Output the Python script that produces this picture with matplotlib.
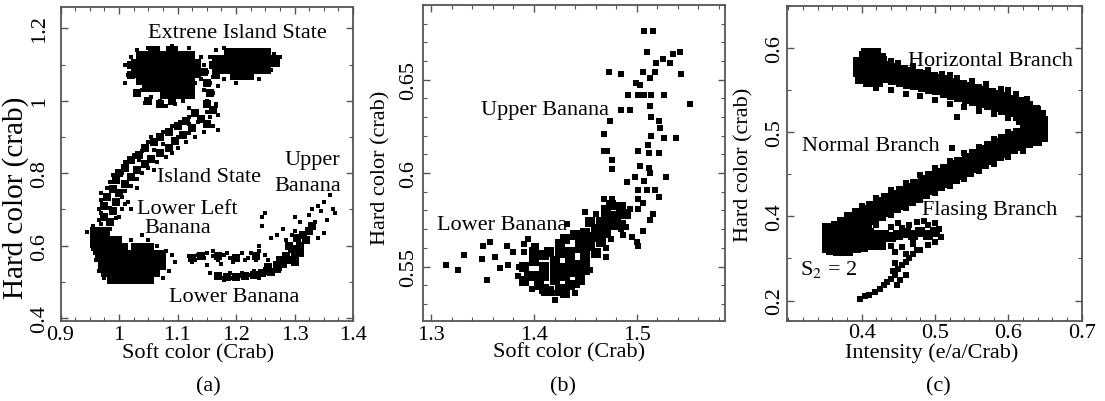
import numpy as np
import matplotlib
matplotlib.use('Agg')
import matplotlib.pyplot as plt
from matplotlib.ticker import MultipleLocator, FixedLocator, FixedFormatter

plt.rcParams['font.family'] = ['Liberation Serif', 'DejaVu Serif']
plt.rcParams['mathtext.fontset'] = 'stix'

# ---------------- Panel (a): soft colour vs hard colour ----------------
a_core = [  # dense regions
    (1.04,1.12),(1.06,1.12),(1.08,1.12),(1.10,1.12),(1.12,1.12),(1.06,1.135),(1.09,1.135),
    (1.03,1.10),(1.05,1.10),(1.07,1.10),(1.09,1.10),(1.11,1.10),(1.13,1.10),
    (1.03,1.08),(1.05,1.08),(1.07,1.08),(1.09,1.08),(1.11,1.08),(1.13,1.08),
    (1.04,1.06),(1.06,1.06),(1.08,1.06),(1.10,1.06),(1.12,1.06),
    (1.06,1.04),(1.08,1.04),(1.10,1.04),(1.12,1.04),(1.08,1.02),(1.10,1.02),(1.12,1.02),
    (1.05,1.04),
    (1.19,1.13),(1.21,1.13),(1.23,1.13),(1.25,1.13),
    (1.17,1.11),(1.19,1.11),(1.21,1.11),(1.23,1.11),(1.25,1.11),(1.265,1.11),
    (1.17,1.09),(1.19,1.09),(1.21,1.09),(1.23,1.09),(1.25,1.09),(1.20,1.075),(1.22,1.075),
    (0.99,0.51),(1.01,0.51),(1.03,0.51),(1.05,0.51),
    (0.98,0.53),(1.00,0.53),(1.02,0.53),(1.04,0.53),(1.06,0.53),
    (0.975,0.55),(0.995,0.55),(1.015,0.55),(1.035,0.55),(1.055,0.55),(1.07,0.55),
    (0.97,0.57),(0.99,0.57),(1.01,0.57),(1.03,0.57),(1.05,0.57),(1.07,0.57),
    (0.965,0.59),(0.985,0.59),(1.005,0.59),(1.03,0.59),(1.05,0.59),
    (0.96,0.61),(0.975,0.61),(0.995,0.61),(0.96,0.635),(0.975,0.635),
]
a_mid = [
    (1.16,0.975),(1.13,0.965),(1.14,0.95),(1.115,0.945),(1.15,0.935),(1.10,0.93),
    (1.125,0.925),(1.085,0.915),(1.11,0.905),(1.07,0.90),(1.095,0.89),(1.06,0.885),
    (1.085,0.87),(1.045,0.87),(1.07,0.855),(1.035,0.85),(1.055,0.84),(1.02,0.835),
    (1.045,0.825),(1.01,0.815),(1.03,0.81),(1.00,0.80),(1.02,0.79),(0.995,0.78),
    (1.01,0.77),(0.99,0.755),(1.00,0.745),(0.98,0.735),(0.995,0.72),(0.975,0.71),
    (0.99,0.695),(0.975,0.68),(0.985,0.665),
    (1.15,0.99),(1.155,1.02),(1.15,1.05),(1.145,1.08),
    (1.05,1.00),(1.07,0.99),(1.09,1.00),(1.03,1.02),
    (1.02,1.07),(1.02,1.10),(1.165,1.07),(1.16,1.10),
    (1.17,0.515),(1.185,0.512),(1.20,0.513),(1.215,0.517),(1.23,0.52),(1.245,0.523),
    (1.26,0.528),(1.27,0.535),(1.255,0.54),
    (1.125,0.565),(1.14,0.57),(1.17,0.57),(1.20,0.565),(1.235,0.57),
    (1.27,0.545),(1.28,0.55),(1.29,0.56),(1.30,0.575),(1.295,0.59),(1.31,0.60),
    (1.31,0.58),(1.32,0.615),(1.285,0.57),(1.30,0.555),(1.315,0.63),(1.325,0.64),
    (1.275,0.56),(1.29,0.60),(1.305,0.62),(1.33,0.655),
]
a_pts = [
    (1.14,1.12),(1.145,1.10),(1.15,1.08),(1.14,1.06),(1.155,1.05),(1.145,1.03),(1.16,1.02),
    (1.15,1.00),(1.165,0.99),(1.135,1.09),(1.16,1.065),
    (1.17,1.04),(1.13,1.05),(1.125,1.03),(1.11,1.00),(1.095,0.99),(1.07,1.00),(1.055,1.01),
    (1.045,0.995),(1.08,0.985),(1.12,0.98),
    (1.01,1.10),(1.015,1.07),(1.02,1.12),(1.01,1.05),(1.03,1.14),(1.05,1.145),(1.09,1.15),
    (1.12,1.145),(1.04,1.03),(1.025,1.09),
    (1.155,1.12),(1.165,1.14),(1.18,1.145),(1.27,1.10),(1.275,1.12),(1.265,1.13),(1.24,1.06),
    (1.18,1.06),(1.20,1.05),(1.26,1.085),
    (1.17,0.96),(1.165,0.985),(1.15,0.97),(1.12,0.955),(1.105,0.94),(1.135,0.94),(1.16,0.93),
    (1.09,0.93),(1.12,0.91),(1.13,0.90),(1.075,0.915),(1.055,0.90),(1.10,0.90),(1.115,0.885),
    (1.05,0.885),(1.075,0.88),(1.10,0.87),(1.04,0.86),(1.06,0.865),(1.08,0.845),(1.025,0.85),
    (1.065,0.83),(1.035,0.835),(1.01,0.83),(1.05,0.815),(1.005,0.80),(1.04,0.80),(0.99,0.795),
    (1.03,0.785),(0.985,0.775),(1.02,0.765),(0.98,0.76),(1.01,0.75),(0.97,0.745),(1.005,0.735),
    (0.97,0.725),(1.01,0.715),(0.965,0.70),(1.005,0.70),(0.985,0.705),(0.97,0.69),(1.00,0.68),
    (0.965,0.67),(0.995,0.675),(1.02,0.70),(1.015,0.72),(1.03,0.76),(1.06,0.81),(1.09,0.855),
    (1.12,0.935),(1.145,0.915),(1.17,0.92),(1.155,0.955),
    (0.945,0.637),(0.955,0.655),(0.97,0.66),(0.985,0.645),(1.02,0.615),(1.05,0.615),
    (1.065,0.60),(1.08,0.585),(1.09,0.575),(1.095,0.555),(1.085,0.53),(1.075,0.51),(1.05,0.50),
    (1.02,0.50),(0.99,0.50),(0.975,0.51),(0.965,0.53),(0.96,0.56),(0.955,0.59),(1.04,0.63),
    (1.12,0.57),(1.125,0.555),(1.135,0.575),(1.145,0.565),(1.15,0.545),(1.16,0.57),(1.17,0.56),
    (1.18,0.575),(1.19,0.565),(1.20,0.57),(1.21,0.58),(1.22,0.565),(1.23,0.575),(1.24,0.585),
    (1.25,0.575),(1.16,0.585),(1.175,0.55),(1.195,0.555),(1.215,0.56),(1.235,0.56),(1.24,0.60),
    (1.255,0.56),(1.13,0.56),(1.15,0.58),(1.185,0.58),(1.225,0.58),
    (1.155,0.525),(1.165,0.515),(1.175,0.51),(1.185,0.515),(1.195,0.51),(1.205,0.515),
    (1.215,0.515),(1.225,0.52),(1.235,0.52),(1.245,0.525),(1.255,0.525),(1.265,0.53),
    (1.275,0.535),(1.19,0.525),(1.21,0.525),(1.23,0.53),(1.25,0.535),(1.18,0.505),(1.24,0.51),
    (1.245,0.68),(1.25,0.69),(1.245,0.655),(1.26,0.62),(1.27,0.63),(1.28,0.645),(1.295,0.63),
    (1.285,0.615),(1.30,0.68),(1.31,0.665),(1.325,0.685),(1.33,0.70),(1.34,0.71),(1.345,0.695),
    (1.35,0.72),(1.36,0.74),(1.365,0.70),(1.37,0.69),(1.355,0.67),(1.35,0.635),(1.34,0.62),
    (1.30,0.64),(1.335,0.665),
]

# ---------------- Panel (b) ----------------
b_core = [
    (1.395,0.545),(1.405,0.540),(1.415,0.537),(1.425,0.538),(1.435,0.540),(1.445,0.543),
    (1.400,0.553),(1.410,0.550),(1.420,0.548),(1.430,0.549),(1.440,0.551),(1.450,0.553),
    (1.415,0.558),(1.425,0.557),(1.435,0.558),(1.445,0.560),(1.455,0.561),(1.460,0.557),
    (1.430,0.565),(1.440,0.567),(1.450,0.568),(1.460,0.566),(1.465,0.563),
    (1.455,0.574),(1.465,0.571),(1.470,0.575),(1.480,0.577),(1.485,0.572),
    (1.475,0.583),(1.485,0.582),(1.490,0.578),
    (1.390,0.550),(1.400,0.545),(1.410,0.545),(1.420,0.543),(1.430,0.545),(1.440,0.547),
    (1.450,0.548),(1.420,0.553),(1.410,0.556),(1.450,0.557),(1.435,0.553),
    (1.425,0.562),(1.445,0.564),(1.455,0.566),(1.460,0.570),(1.470,0.568),(1.475,0.572),
    (1.470,0.580),(1.410,0.538),(1.430,0.536),(1.400,0.558),(1.390,0.542),
]
b_pts = [
    (1.314,0.551),(1.326,0.548),(1.332,0.556),(1.349,0.554),(1.354,0.543),(1.350,0.561),
    (1.357,0.563),(1.362,0.555),(1.367,0.549),(1.374,0.561),(1.384,0.545),(1.390,0.558),
    (1.394,0.565),(1.402,0.561),(1.410,0.536),(1.422,0.536),(1.432,0.573),(1.440,0.566),
    (1.442,0.540),(1.450,0.579),(1.463,0.575),(1.468,0.586),(1.476,0.586),(1.468,0.612),
    (1.471,0.612),(1.476,0.607),(1.476,0.602),(1.468,0.621),(1.474,0.628),(1.473,0.654),
    (1.485,0.653),(1.485,0.634),(1.493,0.634),(1.492,0.642),(1.501,0.642),(1.507,0.642),
    (1.514,0.642),(1.499,0.648),(1.503,0.647),(1.506,0.654),(1.513,0.651),(1.518,0.654),
    (1.507,0.676),(1.516,0.676),(1.510,0.665),(1.519,0.659),(1.526,0.661),(1.532,0.659),
    (1.535,0.664),(1.542,0.665),(1.543,0.653),(1.527,0.642),(1.552,0.637),(1.513,0.636),
    (1.514,0.630),(1.522,0.628),(1.523,0.624),(1.514,0.620),(1.527,0.619),(1.538,0.619),
    (1.511,0.615),(1.501,0.612),(1.512,0.611),(1.522,0.611),(1.503,0.604),(1.512,0.603),
    (1.513,0.600),(1.507,0.596),(1.529,0.598),(1.498,0.598),(1.491,0.595),(1.501,0.591),
    (1.510,0.591),(1.518,0.591),(1.522,0.587),(1.501,0.586),(1.506,0.584),(1.501,0.581),
    (1.493,0.581),(1.488,0.579),(1.516,0.578),(1.513,0.575),(1.506,0.569),(1.500,0.563),
    (1.501,0.561),(1.487,0.567),(1.485,0.570),
    (1.380,0.558),(1.385,0.550),(1.390,0.562),(1.375,0.551),(1.400,0.561),(1.430,0.535),
    (1.440,0.536),(1.455,0.548),(1.470,0.555),(1.475,0.565),(1.490,0.571),(1.495,0.566),
    (1.460,0.578),(1.470,0.560),(1.420,0.532),(1.412,0.544),(1.398,0.538),
]

# ---------------- Panel (c): intensity vs hard colour ----------------
c_band = [
    (0.405,0.578),(0.412,0.577),(0.420,0.575),(0.430,0.573),(0.440,0.571),(0.450,0.568),
    (0.460,0.566),(0.470,0.564),(0.480,0.562),(0.490,0.560),(0.500,0.558),(0.510,0.556),
    (0.520,0.553),(0.530,0.551),(0.540,0.548),(0.550,0.546),(0.560,0.543),(0.570,0.541),
    (0.580,0.538),(0.590,0.536),(0.600,0.533),(0.610,0.530),(0.620,0.526),(0.630,0.521),
    (0.637,0.515),(0.641,0.508),(0.640,0.500),
    (0.632,0.496),(0.620,0.493),(0.610,0.490),(0.600,0.486),(0.590,0.482),(0.580,0.478),
    (0.570,0.473),(0.560,0.468),(0.550,0.464),(0.540,0.459),(0.530,0.455),(0.520,0.450),
    (0.510,0.446),(0.500,0.442),(0.490,0.437),(0.480,0.433),(0.470,0.428),(0.460,0.424),
    (0.450,0.420),(0.440,0.416),(0.430,0.411),(0.420,0.407),(0.410,0.402),(0.400,0.398),
    (0.390,0.393),(0.380,0.388),(0.372,0.383),(0.365,0.378),(0.362,0.372),(0.366,0.366),
    (0.375,0.365),(0.385,0.368),(0.395,0.370),(0.405,0.372),
    (0.410,0.585),(0.415,0.566),(0.405,0.570),(0.420,0.583),(0.412,0.588),(0.402,0.578),
    (0.360,0.380),(0.370,0.376),(0.380,0.375),(0.390,0.374),(0.400,0.372),(0.410,0.372),
    (0.420,0.372),(0.360,0.368),(0.370,0.368),
]
c_mid = [
    (0.390,0.383),(0.400,0.378),(0.410,0.380),(0.420,0.376),(0.430,0.378),(0.440,0.375),
    (0.450,0.378),(0.460,0.380),(0.470,0.378),(0.480,0.382),(0.490,0.378),(0.500,0.381),
]
c_pts = [
    (0.430,0.587),(0.450,0.583),(0.470,0.579),(0.490,0.574),(0.510,0.570),(0.530,0.565),
    (0.550,0.561),(0.570,0.557),(0.590,0.552),(0.610,0.546),(0.625,0.540),(0.640,0.528),
    (0.650,0.512),(0.440,0.585),(0.520,0.568),(0.600,0.550),
    (0.420,0.553),(0.440,0.551),(0.460,0.546),(0.480,0.543),(0.500,0.539),(0.520,0.534),
    (0.540,0.530),(0.560,0.526),(0.580,0.522),(0.600,0.517),(0.615,0.512),
    (0.620,0.507),(0.600,0.500),(0.580,0.492),(0.560,0.483),(0.540,0.475),(0.520,0.466),
    (0.500,0.458),(0.480,0.449),(0.460,0.440),(0.440,0.431),(0.420,0.422),(0.400,0.413),
    (0.380,0.402),
    (0.620,0.478),(0.600,0.471),(0.580,0.463),(0.560,0.454),(0.540,0.445),(0.520,0.436),
    (0.500,0.428),(0.480,0.419),(0.460,0.410),(0.440,0.402),(0.420,0.394),(0.400,0.386),
    (0.355,0.358),(0.355,0.388),(0.530,0.518),(0.523,0.482),
    (0.410,0.392),(0.420,0.390),(0.425,0.398),(0.440,0.388),(0.450,0.392),(0.455,0.386),
    (0.465,0.390),(0.475,0.393),(0.485,0.395),(0.490,0.390),(0.500,0.392),(0.505,0.385),
    (0.508,0.375),(0.500,0.370),(0.490,0.366),(0.470,0.367),(0.455,0.364),(0.440,0.365),
    (0.425,0.366),(0.410,0.368),(0.460,0.355),(0.480,0.360),(0.445,0.358),(0.470,0.372),
    (0.398,0.302),(0.405,0.305),(0.410,0.306),(0.418,0.310),(0.425,0.314),(0.430,0.318),
    (0.435,0.322),(0.440,0.326),(0.445,0.330),(0.442,0.335),(0.450,0.338),(0.455,0.342),
    (0.460,0.346),(0.448,0.318),(0.452,0.325),(0.465,0.350),(0.470,0.355),(0.475,0.360),
    (0.460,0.330),(0.445,0.345),
]

c_xtick_vals = [0.4, 0.5, 0.6, 0.7]
c_ytick_vals = [0.3, 0.4, 0.5, 0.6]
c_ytick_labels = ['0.2', '0.4', '0.5', '0.6']

FS = 16
SPINE = '#555555'

fig = plt.figure(figsize=(11.05, 4.02), dpi=100)
W, H = 1105.0, 402.0
axA = fig.add_axes([60.5/W, (H-321.7)/H, 292.5/W, 313.4/H])
axB = fig.add_axes([422.7/W, (H-321.7)/H, 302.3/W, 315.7/H])
axC = fig.add_axes([786.7/W, (H-321.7)/H, 295.0/W, 314.4/H])


def style(ax, ypad, xpad=3):
    for s in ax.spines.values():
        s.set_color(SPINE)
        s.set_linewidth(1.3)
    ax.tick_params(which='both', direction='in', top=True, right=True, color=SPINE,
                   labelsize=FS)
    ax.tick_params(which='major', length=5, width=1.0)
    ax.tick_params(which='minor', length=3, width=0.8)
    ax.tick_params(axis='x', pad=xpad)
    ax.tick_params(axis='y', pad=ypad)
    for lab in ax.get_yticklabels():
        lab.set_rotation(90)
        lab.set_va('center')


def scat(ax, pts, size):
    arr = np.array(pts)
    ax.scatter(arr[:, 0], arr[:, 1], s=size, marker='s', c='black', linewidths=0)


fmt = plt.FuncFormatter(lambda v, p: ('%g' % round(v, 3)))

# Panel (a)
scat(axA, a_core, 70)
scat(axA, a_mid, 26)
scat(axA, a_pts, 12)
axA.set_xlim(0.9, 1.4)
axA.set_ylim(0.3925, 1.258)
axA.xaxis.set_major_locator(MultipleLocator(0.1))
axA.xaxis.set_minor_locator(MultipleLocator(0.025))
axA.yaxis.set_major_locator(MultipleLocator(0.2))
axA.yaxis.set_minor_locator(MultipleLocator(0.1))
axA.xaxis.set_major_formatter(fmt)
axA.yaxis.set_major_formatter(fmt)
style(axA, 8)
axA.set_xlabel('Soft color (Crab)', fontsize=FS)
axA.set_ylabel('Hard color (crab)', fontsize=21)
axA.xaxis.set_label_coords(0.47, -0.072)
axA.yaxis.set_label_coords(-0.108, 0.395)
axA.text(1.203, 1.189, 'Extrene Island State', fontsize=FS, ha='center', va='center')
axA.text(1.154, 0.791, 'Island State', fontsize=FS, ha='center', va='center')
axA.text(1.330, 0.839, 'Upper', fontsize=FS, ha='center', va='center')
axA.text(1.322, 0.767, 'Banana', fontsize=FS, ha='center', va='center')
axA.text(1.116, 0.701, 'Lower Left', fontsize=FS, ha='center', va='center')
axA.text(1.101, 0.650, 'Banana', fontsize=FS, ha='center', va='center')
axA.text(1.197, 0.458, 'Lower Banana', fontsize=FS, ha='center', va='center')

# Panel (b)
scat(axB, b_core, 60)
scat(axB, b_pts, 14)
axB.set_xlim(1.2916, 1.586)
axB.set_ylim(0.521, 0.690)
axB.xaxis.set_major_locator(MultipleLocator(0.1))
axB.xaxis.set_minor_locator(MultipleLocator(0.02))
axB.yaxis.set_major_locator(MultipleLocator(0.05))
axB.yaxis.set_minor_locator(MultipleLocator(0.01))
axB.xaxis.set_major_formatter(fmt)
axB.yaxis.set_major_formatter(fmt)
style(axB, 3)
axB.set_xlabel('Soft color (Crab)', fontsize=FS)
axB.set_ylabel('Hard color (crab)', fontsize=FS)
axB.xaxis.set_label_coords(0.484, -0.068)
axB.yaxis.set_label_coords(-0.108, 0.487)
axB.text(1.411, 0.634, 'Upper Banana', fontsize=FS, ha='center', va='center')
axB.text(1.369, 0.5724, 'Lower Banana', fontsize=FS, ha='center', va='center')

# Panel (c)
scat(axC, c_band, 200)
scat(axC, c_mid, 50)
scat(axC, c_pts, 15)
axC.set_xlim(0.2977, 0.70)
axC.set_ylim(0.276, 0.65)
axC.xaxis.set_major_locator(FixedLocator(c_xtick_vals))
axC.xaxis.set_minor_locator(MultipleLocator(0.02))
axC.yaxis.set_major_locator(FixedLocator(c_ytick_vals))
axC.yaxis.set_major_formatter(FixedFormatter(c_ytick_labels))
axC.yaxis.set_minor_locator(MultipleLocator(0.05))
axC.xaxis.set_major_formatter(fmt)
style(axC, 2, xpad=1.5)
axC.set_xlabel('Intensity (e/a/Crab)', fontsize=FS)
axC.set_ylabel('Hard color (crab)', fontsize=FS)
axC.xaxis.set_label_coords(0.49, -0.07)
axC.yaxis.set_label_coords(-0.114, 0.5)
axC.text(0.575, 0.5857, 'Horizontal Branch', fontsize=FS, ha='center', va='center')
axC.text(0.4124, 0.4839, 'Normal Branch', fontsize=FS, ha='center', va='center')
axC.text(0.575, 0.4087, 'Flasing Branch', fontsize=FS, ha='center', va='center')
axC.text(0.3158, 0.338, r'S$_2$ = 2', fontsize=FS, ha='left', va='center')

fig.text(0.189, 0.038, '(a)', fontsize=FS, ha='center', va='center')
fig.text(0.5095, 0.038, '(b)', fontsize=FS, ha='center', va='center')
fig.text(0.849, 0.038, '(c)', fontsize=FS, ha='center', va='center')

fig.savefig('out.png', dpi=100)
